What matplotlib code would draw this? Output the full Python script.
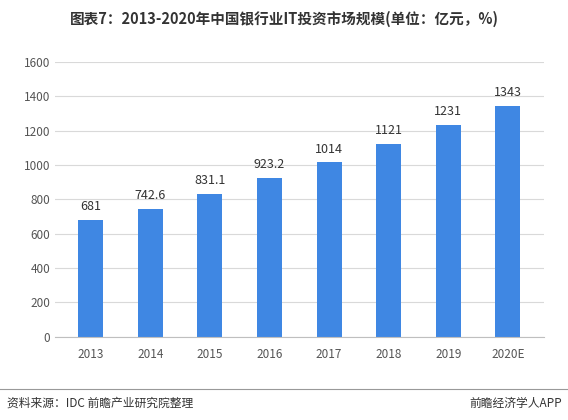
import matplotlib
matplotlib.use('Agg')
import matplotlib.pyplot as plt

plt.rcParams['font.family'] = ['Noto Sans CJK SC', 'DejaVu Sans']

years = ['2013', '2014', '2015', '2016', '2017', '2018', '2019', '2020E']
values = [681, 742.6, 831.1, 923.2, 1014, 1121, 1231, 1343]
labels = ['681', '742.6', '831.1', '923.2', '1014', '1121', '1231', '1343']

fig = plt.figure(figsize=(5.68, 4.2), dpi=100)
ax = fig.add_axes([0.097, 0.198, 0.86, 0.655])

bars = ax.bar(years, values, width=0.42, color='#3f87e3', zorder=2)
for bar, lab in zip(bars, labels):
    ax.text(bar.get_x() + bar.get_width() / 2, bar.get_height() + 40, lab,
            ha='center', va='bottom', fontsize=9, color='#333333')

ax.set_ylim(0, 1600)
ax.set_yticks(range(0, 1601, 200))
ax.set_xlim(-0.6, 7.6)
ax.grid(True, axis='y', color='#d9d9d9', linewidth=0.8, zorder=0)
for s in ['top', 'right', 'left']:
    ax.spines[s].set_visible(False)
ax.spines['bottom'].set_color('#bfbfbf')
ax.tick_params(axis='both', length=0, labelsize=8.5, colors='#555555')
ax.tick_params(axis='x', pad=8)

fig.text(0.5, 0.955, '图表7：2013-2020年中国银行业IT投资市场规模(单位：亿元，%)',
         ha='center', va='center', fontsize=10.5, fontweight='bold', color='#333333')

fig.add_artist(plt.Line2D([0.0, 1.0], [0.075, 0.075], color='#999999', linewidth=0.8))
fig.text(0.012, 0.04, '资料来源：IDC 前瞻产业研究院整理', ha='left', va='center',
         fontsize=8.5, color='#333333')
fig.text(0.99, 0.04, '前瞻经济学人APP', ha='right', va='center',
         fontsize=8.5, color='#333333')

fig.savefig('out.png', dpi=100)
